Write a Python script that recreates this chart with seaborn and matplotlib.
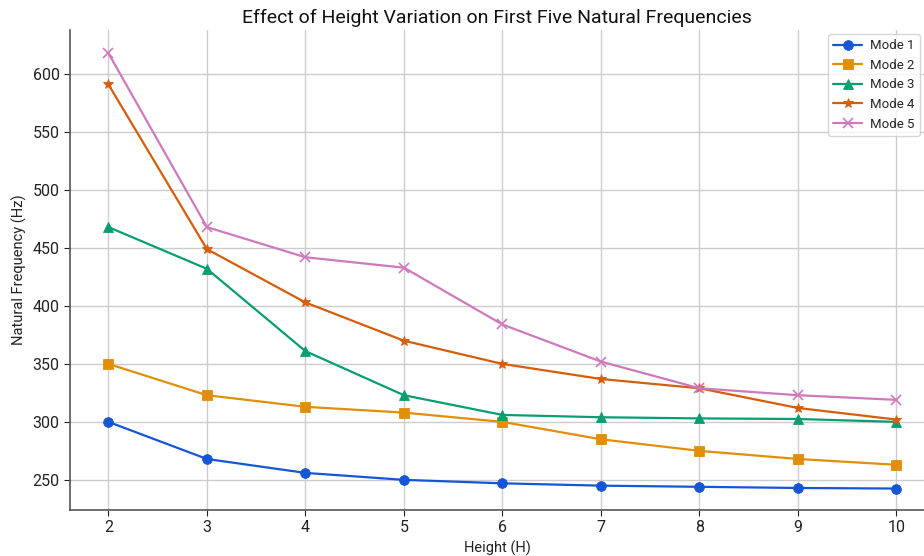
import matplotlib
matplotlib.use("Agg")
import matplotlib.pyplot as plt
import seaborn as sns
import pandas as pd

heights = [2, 3, 4, 5, 6, 7, 8, 9, 10]
mode1 = [300, 268, 256, 250, 247, 245, 244, 243, 242.5]
mode2 = [350, 323, 313, 308, 300, 285, 275, 268, 263]
mode3 = [468, 432, 361, 323, 306, 304, 303, 302.5, 300]
mode4 = [591, 449, 403, 370, 350, 337, 329, 312, 302]
mode5 = [618, 468, 442, 433, 384, 352, 329, 323, 319]
mode_names = ["Mode 1", "Mode 2", "Mode 3", "Mode 4", "Mode 5"]
series = [mode1, mode2, mode3, mode4, mode5]

sns.set_theme(style="whitegrid")
plt.rcParams['font.family'] = ['Roboto', 'DejaVu Sans']

colors = ["#1556d6", "#e08f06", "#079e72", "#d65d0a", "#cf79bd"]
markers = ["o", "s", "^", "*", "x"]

fig = plt.figure(figsize=(9.24, 5.56), dpi=100)
ax = fig.add_axes([70/924, 46/556, 1 - 70/924, 480/556])

for name, vals, c, m in zip(mode_names, series, colors, markers):
    df = pd.DataFrame({"Height": heights, "Freq": vals})
    sns.lineplot(data=df, x="Height", y="Freq", color=c, marker=m, markersize=7,
                 linewidth=1.6, ax=ax, label=name,
                 markeredgewidth=(1.2 if m == "x" else 0.6),
                 markeredgecolor=c)

ax.set_xlim(1.61, 10.28)
ax.set_ylim(224, 638)
ax.set_xticks(heights)
ax.set_yticks([250, 300, 350, 400, 450, 500, 550, 600])
ax.tick_params(labelsize=11.5, colors="#222222", length=4, width=0.8, left=True, bottom=True)
ax.grid(True, color="#cccccc", linewidth=1.0)
for s in ["top", "right"]:
    ax.spines[s].set_visible(False)
for s in ["left", "bottom"]:
    ax.spines[s].set_color("#555555")
    ax.spines[s].set_linewidth(1.2)
ax.set_xlabel("Height (H)", fontsize=10.5, color="#222222")
ax.set_ylabel("Natural Frequency (Hz)", fontsize=10.5, color="#222222")
ax.set_title("Effect of Height Variation on First Five Natural Frequencies", fontsize=14, color="#111111", pad=5)
leg = ax.legend(loc="upper right", fontsize=9.5, frameon=True, borderaxespad=0.3,
                handlelength=2.2, handletextpad=0.6)
leg.get_frame().set_edgecolor("#cccccc")

fig.savefig("out.png", dpi=100)
